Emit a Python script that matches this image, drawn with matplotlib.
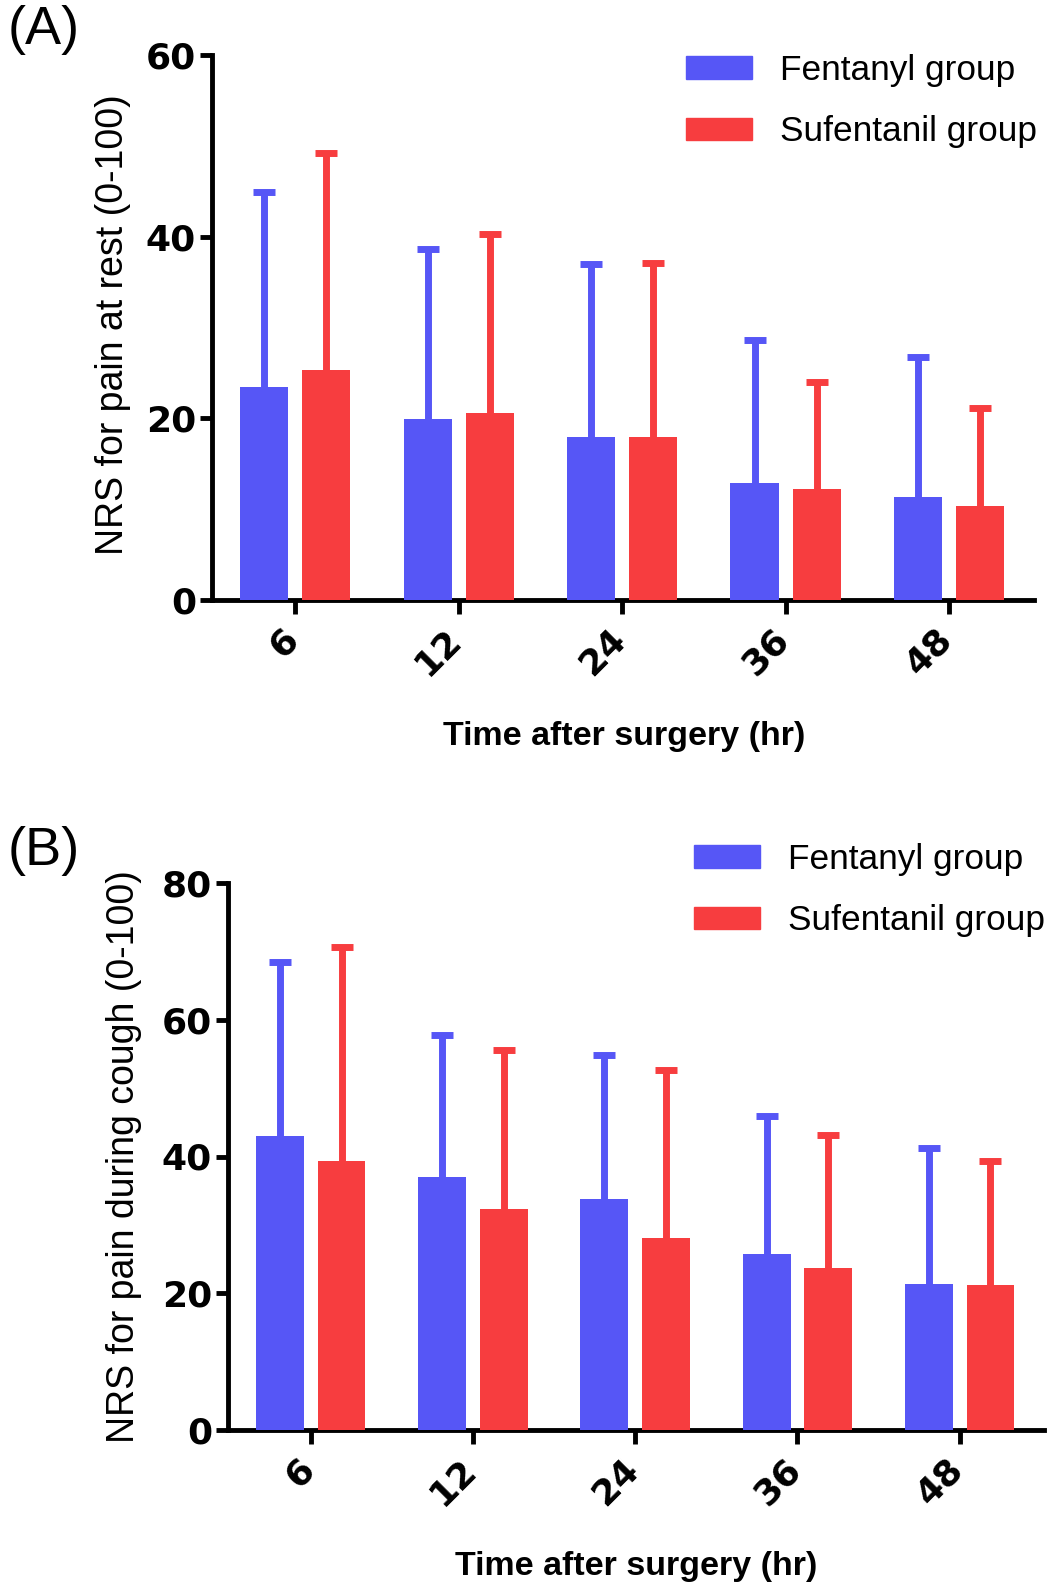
import numpy as np
import matplotlib
matplotlib.use("Agg")
import matplotlib.pyplot as plt
from matplotlib.patches import Patch
import matplotlib.transforms as mtransforms

# ---------------- data ----------------
times = ["6", "12", "24", "36", "48"]
groups = ["Fentanyl group", "Sufentanil group"]

rest_fentanyl = [23.5, 19.9, 17.9, 12.9, 11.3]
rest_fentanyl_upper = [44.9, 38.6, 37.0, 28.6, 26.8]
rest_sufentanil = [25.3, 20.6, 17.9, 12.2, 10.3]
rest_sufentanil_upper = [49.2, 40.3, 37.1, 24.0, 21.1]

cough_fentanyl = [43.0, 37.0, 33.8, 25.8, 21.3]
cough_fentanyl_upper = [68.4, 57.7, 54.9, 45.9, 41.3]
cough_sufentanil = [39.3, 32.3, 28.1, 23.7, 21.2]
cough_sufentanil_upper = [70.7, 55.6, 52.7, 43.2, 39.3]

BLUE = "#5656F6"
RED = "#F73D3F"

W, H = 1049, 1582
fig = plt.figure(figsize=(W / 100, H / 100), dpi=100)


def rect(x0, y0, x1, y1):
    return [x0 / W, 1 - y1 / H, (x1 - x0) / W, (y1 - y0) / H]


def panel(r, fent, fent_up, suf, suf_up, ymax, ylabel, ylabel_xy, xlabel_xy, leg_xy):
    ax = fig.add_axes(r)
    x = np.arange(len(times))
    bw = 0.295
    off = 0.19
    for vals, ups, col, dx, lab in [(fent, fent_up, BLUE, -off, groups[0]),
                                   (suf, suf_up, RED, off, groups[1])]:
        vals = np.array(vals)
        ups = np.array(ups)
        eb = ax.errorbar(x + dx, vals, yerr=[np.zeros_like(vals), ups - vals], fmt="none",
                         ecolor=col, elinewidth=5, capsize=8, capthick=5, zorder=2)
        # keep only the upper caps
        for cl in eb[1]:
            if np.allclose(np.asarray(cl.get_ydata(), dtype=float), vals):
                cl.set_visible(False)
        ax.bar(x + dx, vals, width=bw, color=col, label=lab, zorder=3)
    ax.set_xlim(-0.51, len(times) - 1 + 0.52)
    ax.set_ylim(0, ymax)
    ax.set_yticks(np.arange(0, ymax + 1, 20))
    ax.set_xticks(x)
    ax.set_xticklabels(times, rotation=45, ha="right", va="top")
    for lbl in ax.get_xticklabels() + ax.get_yticklabels():
        lbl.set_fontfamily("DejaVu Sans")
        lbl.set_fontweight("bold")
        lbl.set_fontsize(26)
    for s in ["top", "right"]:
        ax.spines[s].set_visible(False)
    for s in ["left", "bottom"]:
        ax.spines[s].set_linewidth(3.5)
        ax.spines[s].set_capstyle("projecting")
    ax.tick_params(axis="y", length=9, width=3.5, pad=2.5)
    ax.tick_params(axis="x", length=10, width=3.5, pad=6)
    # nudge rotated x tick labels to the right (after tick_params, which resets transforms)
    shift = mtransforms.ScaledTranslation(10 / 100, 0, fig.dpi_scale_trans)
    for lbl in ax.get_xticklabels():
        lbl.set_transform(lbl.get_transform() + shift)

    fig.text(ylabel_xy[0] / W, 1 - ylabel_xy[1] / H, ylabel, rotation=90,
             ha="center", va="center", fontsize=27, family="Liberation Sans")
    fig.text(xlabel_xy[0] / W, 1 - xlabel_xy[1] / H, "Time after surgery (hr)",
             ha="center", va="center", fontsize=24.5, weight="bold",
             family="Liberation Sans")
    handles = [Patch(color=BLUE), Patch(color=RED)]
    fig.legend(handles, groups, loc="upper left",
               bbox_to_anchor=(leg_xy[0] / W, 1 - leg_xy[1] / H),
               frameon=False, prop=dict(family="Liberation Sans", size=25.4),
               handlelength=1.87, handleheight=0.6, handletextpad=0.79,
               labelspacing=0.8, borderpad=0, borderaxespad=0)
    return ax


axA = panel(rect(212, 55, 1034, 600), rest_fentanyl, rest_fentanyl_upper,
            rest_sufentanil, rest_sufentanil_upper, 60,
            "NRS for pain at rest (0-100)", (113, 325), (624, 736), (686, 54))
axB = panel(rect(228, 883, 1044, 1430), cough_fentanyl, cough_fentanyl_upper,
            cough_sufentanil, cough_sufentanil_upper, 80,
            "NRS for pain during cough (0-100)", (124, 1157), (636, 1566), (694, 843))

fig.text(8 / W, 1 - 5 / H, "(A)", ha="left", va="top", fontsize=39, family="Liberation Sans")
fig.text(8 / W, 1 - 826 / H, "(B)", ha="left", va="top", fontsize=39, family="Liberation Sans")

fig.savefig("out.png", dpi=100, facecolor="white")
